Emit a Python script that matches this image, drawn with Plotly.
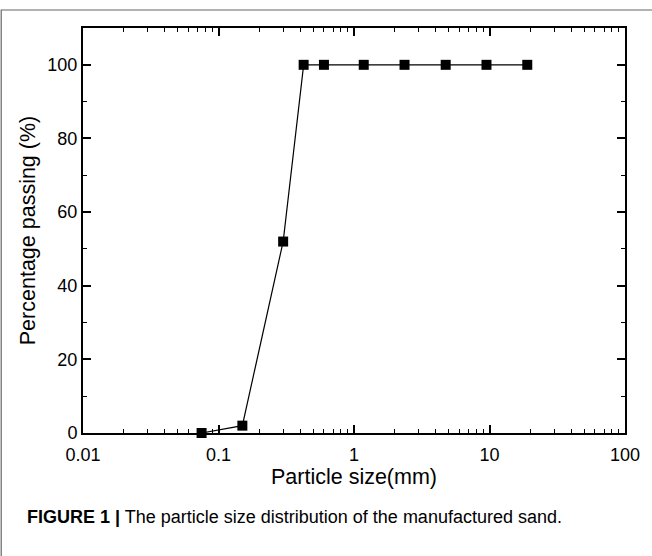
import plotly.graph_objects as go

sizes_mm = [0.075, 0.15, 0.3, 0.425, 0.6, 1.18, 2.36, 4.75, 9.5, 19]
passing_pct = [0, 2, 52, 100, 100, 100, 100, 100, 100, 100]
x_tick_vals = [0.01, 0.1, 1, 10, 100]
x_tick_text = ["0.01", "0.1", "1", "10", "100"]
y_tick_vals = [0, 20, 40, 60, 80, 100]

FONT = "Liberation Sans, Arial, sans-serif"

fig = go.Figure()
fig.add_trace(go.Scatter(
    x=sizes_mm, y=passing_pct, mode="lines+markers",
    line=dict(color="black", width=1.2),
    marker=dict(symbol="square", size=10, color="black"),
    showlegend=False, cliponaxis=False,
))

fig.update_xaxes(
    type="log", range=[-2, 2],
    tickvals=x_tick_vals, ticktext=x_tick_text,
    ticks="inside", ticklen=8, tickwidth=1.5, tickcolor="black",
    minor=dict(ticks="inside", ticklen=4, tickwidth=1, tickcolor="black", dtick="D1", showgrid=False),
    showline=True, linecolor="black", linewidth=2, mirror="allticks",
    showgrid=False, zeroline=False, ticklabelstandoff=4,
    tickfont=dict(family=FONT, size=18, color="black"),
    title=dict(text="Particle size(mm)", font=dict(family=FONT, size=21.5, color="black"), standoff=4),
)
fig.update_yaxes(
    range=[0, 110],
    tickvals=y_tick_vals,
    ticks="inside", ticklen=8, tickwidth=1.5, tickcolor="black",
    minor=dict(ticks="inside", ticklen=4, tickwidth=1, tickcolor="black", dtick=10, showgrid=False),
    showline=True, linecolor="black", linewidth=2, mirror="allticks",
    showgrid=False, zeroline=False,
    tickfont=dict(family=FONT, size=18, color="black"),
    title=dict(text="Percentage passing (%)", font=dict(family=FONT, size=21.5, color="black"), standoff=6),
)

fig.add_shape(type="rect", xref="paper", yref="paper",
              x0=-83/550, x1=1.2, y0=-1.0, y1=1 + 18/405,
              line=dict(color="#666666", width=1.2), fillcolor="rgba(0,0,0,0)", layer="below")

fig.add_annotation(
    xref="paper", yref="paper", x=-59/550, y=-84/405, xanchor="left", yanchor="middle",
    text="<b>FIGURE 1 |</b> The particle size distribution of the manufactured sand.",
    showarrow=False, font=dict(family=FONT, size=18, color="black"),
)

fig.update_layout(
    width=652, height=556,
    margin=dict(l=83, r=19, t=28, b=123),
    paper_bgcolor="white", plot_bgcolor="white",
)

fig.write_html("out.html")
